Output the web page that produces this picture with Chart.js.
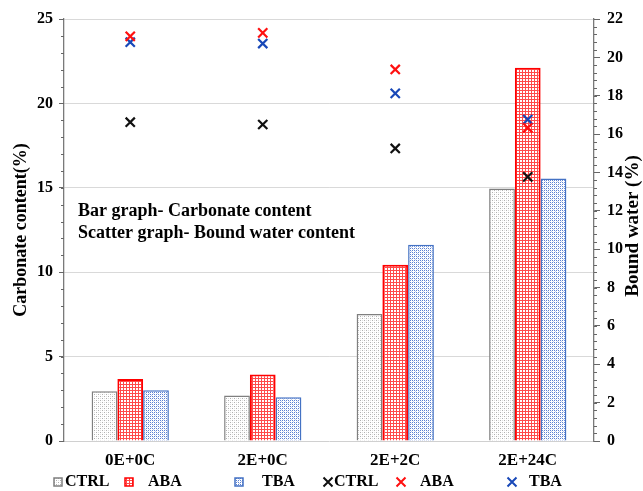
<!DOCTYPE html>
<html><head><meta charset="utf-8">
<script src="https://cdn.jsdelivr.net/npm/chart.js@4.4.1/dist/chart.umd.min.js"></script>
<style>html,body{margin:0;padding:0;background:#fff;} #wrap{width:643px;height:491px;}</style>
</head><body><div id="wrap"><canvas id="c" width="643" height="491"></canvas></div>
<script>
const categories = ['0E+0C', '2E+0C', '2E+2C', '2E+24C'];
const seriesNames = ['CTRL', 'ABA', 'TBA'];
const carbCTRL = [2.95, 2.70, 7.53, 14.96];
const carbABA  = [3.68, 3.94, 10.44, 22.11];
const carbTBA  = [3.01, 2.59, 11.62, 15.55];
const waterCTRL = [16.62, 16.50, 15.25, 13.77];
const waterABA  = [21.10, 21.28, 19.37, 16.33];
const waterTBA  = [20.79, 20.72, 18.12, 16.76];
const leftMax = 25, leftStep = 5, leftMinor = 1;
const rightMax = 22, rightStep = 2, rightMinor = 0.4;
const leftTitle = 'Carbonate content(%)';
const rightTitle = 'Bound water (%)';
const noteLines = ['Bar graph- Carbonate content', 'Scatter graph- Bound water content'];

const FONT = '"Liberation Serif", "Times New Roman", serif';

function makePattern(size, draw) {
  const c = document.createElement('canvas');
  c.width = size; c.height = size;
  const g = c.getContext('2d');
  g.fillStyle = '#ffffff'; g.fillRect(0, 0, size, size);
  draw(g);
  return document.getElementById('c').getContext('2d').createPattern(c, 'repeat');
}
const patCTRL = makePattern(4, g => { g.fillStyle = '#b0b0b0'; g.fillRect(0,0,1,1); g.fillRect(2,2,1,1); g.fillStyle='#e0e0e0'; g.fillRect(2,0,1,1); g.fillRect(0,2,1,1); });
const patABA = makePattern(3, g => { g.fillStyle = '#ff4a4a'; g.fillRect(0,0,3,1); g.fillRect(0,0,1,3); });
const patTBA = makePattern(4, g => { g.fillStyle = '#5b80d2'; g.fillRect(0,0,1,1); g.fillRect(2,2,1,1); g.fillRect(2,0,1,1); g.fillRect(0,2,1,1); g.fillStyle='#c2d0ee'; g.fillRect(1,1,1,1); g.fillRect(3,3,1,1);});

const barColors = ['#7f7f7f', '#ff0000', '#4472c4'];
const barFills = [patCTRL, patABA, patTBA];
const crossColors = ['#111111', '#ff1010', '#1848b8'];

const barData = [carbCTRL, carbABA, carbTBA];
const waterData = [waterCTRL, waterABA, waterTBA];

const datasets = [];
waterData.forEach((d, i) => datasets.push({
  type: 'line', label: seriesNames[i], data: d, yAxisID: 'y1', showLine: false,
  pointStyle: 'crossRot', pointRadius: 6.5, pointBorderWidth: 2.2,
  borderColor: crossColors[i], backgroundColor: crossColors[i], order: 0, clip: false
}));
barData.forEach((d, i) => datasets.push({
  type: 'bar', label: seriesNames[i], data: d, yAxisID: 'y',
  backgroundColor: barFills[i], borderColor: barColors[i], borderWidth: i === 1 ? 2 : 1.5,
  borderSkipped: 'start', categoryPercentage: 0.583, barPercentage: 1, order: 1
}));

const extras = {
  id: 'extras',
  afterDraw(chart) {
    const ctx = chart.ctx;
    const y = chart.scales.y, y1 = chart.scales.y1;
    const ca = chart.chartArea;
    ctx.save();
    // minor ticks
    ctx.strokeStyle = '#666'; ctx.lineWidth = 1;
    for (let v = 0; v <= leftMax + 1e-6; v += leftMinor) {
      const p = Math.round(y.getPixelForValue(v)) + 0.5;
      ctx.beginPath(); ctx.moveTo(ca.left - 3, p); ctx.lineTo(ca.left, p); ctx.stroke();
    }
    for (let v = 0; v <= rightMax + 1e-6; v += rightMinor) {
      const p = Math.round(y1.getPixelForValue(v)) + 0.5;
      ctx.beginPath(); ctx.moveTo(ca.right, p); ctx.lineTo(ca.right + 3, p); ctx.stroke();
    }
    // right title (reads bottom to top)
    ctx.fillStyle = '#000';
    ctx.font = 'bold 19px ' + FONT;
    ctx.textAlign = 'center'; ctx.textBaseline = 'middle';
    ctx.save();
    ctx.translate(633, 226); ctx.rotate(-Math.PI / 2);
    ctx.fillText(rightTitle, 0, 0);
    ctx.restore();
    // note text
    ctx.textAlign = 'left';
    ctx.font = 'bold 18px ' + FONT;
    ctx.fillText(noteLines[0], 78, 211);
    ctx.fillText(noteLines[1], 78, 233);
    // legend
    const ly = 482;
    const boxX = [54, 125, 235], textX = [65, 148, 262];
    ctx.font = 'bold 16px ' + FONT;
    for (let i = 0; i < 3; i++) {
      ctx.fillStyle = barFills[i];
      ctx.fillRect(boxX[i], ly - 4, 8, 8);
      ctx.strokeStyle = barColors[i]; ctx.lineWidth = 1.5;
      ctx.strokeRect(boxX[i], ly - 4, 8, 8);
      ctx.fillStyle = '#000';
      ctx.fillText(seriesNames[i], textX[i], ly);
    }
    const crossX = [328, 401, 512], ctextX = [334, 420, 529];
    for (let i = 0; i < 3; i++) {
      ctx.strokeStyle = crossColors[i]; ctx.lineWidth = 2;
      const r = 4.5;
      ctx.beginPath();
      ctx.moveTo(crossX[i] - r, ly - r); ctx.lineTo(crossX[i] + r, ly + r);
      ctx.moveTo(crossX[i] + r, ly - r); ctx.lineTo(crossX[i] - r, ly + r);
      ctx.stroke();
      ctx.fillStyle = '#000';
      ctx.fillText(seriesNames[i], ctextX[i], ly);
    }
    ctx.restore();
  }
};

new Chart(document.getElementById('c'), {
  type: 'bar',
  data: { labels: categories, datasets },
  options: {
    responsive: false, animation: false,
    layout: { padding: { top: 19, bottom: 0, left: 0, right: 0 } },
    plugins: { legend: { display: false }, tooltip: { enabled: false } },
    scales: {
      x: {
        grid: { display: false, drawTicks: false },
        border: { color: '#d0d0d0', width: 1 },
        ticks: { color: '#000', font: { family: FONT, size: 17, weight: 'bold' }, padding: 9 },
        afterFit(s) { s.height = 50; }
      },
      y: {
        position: 'left', min: 0, max: leftMax,
        ticks: { stepSize: leftStep, color: '#000', font: { family: FONT, size: 16, weight: 'bold' }, padding: 6 },
        grid: { color: ctx => ctx.tick.value === 0 ? 'rgba(0,0,0,0)' : '#d9d9d9', tickColor: '#666', tickLength: 5, lineWidth: 1 },
        border: { color: '#7a7a7a', width: 1.3 },
        title: { display: true, text: leftTitle, color: '#000', font: { family: FONT, size: 18, weight: 'bold' }, padding: { top: 11 } },
        afterFit(s) { s.width = 64; }
      },
      y1: {
        position: 'right', min: 0, max: rightMax,
        ticks: { stepSize: rightStep, color: '#000', font: { family: FONT, size: 16, weight: 'bold' }, padding: 7 },
        grid: { drawOnChartArea: false, tickColor: '#666', tickLength: 6 },
        border: { color: '#7a7a7a', width: 1.3 },
        afterFit(s) { s.width = 49; }
      }
    }
  },
  plugins: [extras]
});
</script></body></html>
